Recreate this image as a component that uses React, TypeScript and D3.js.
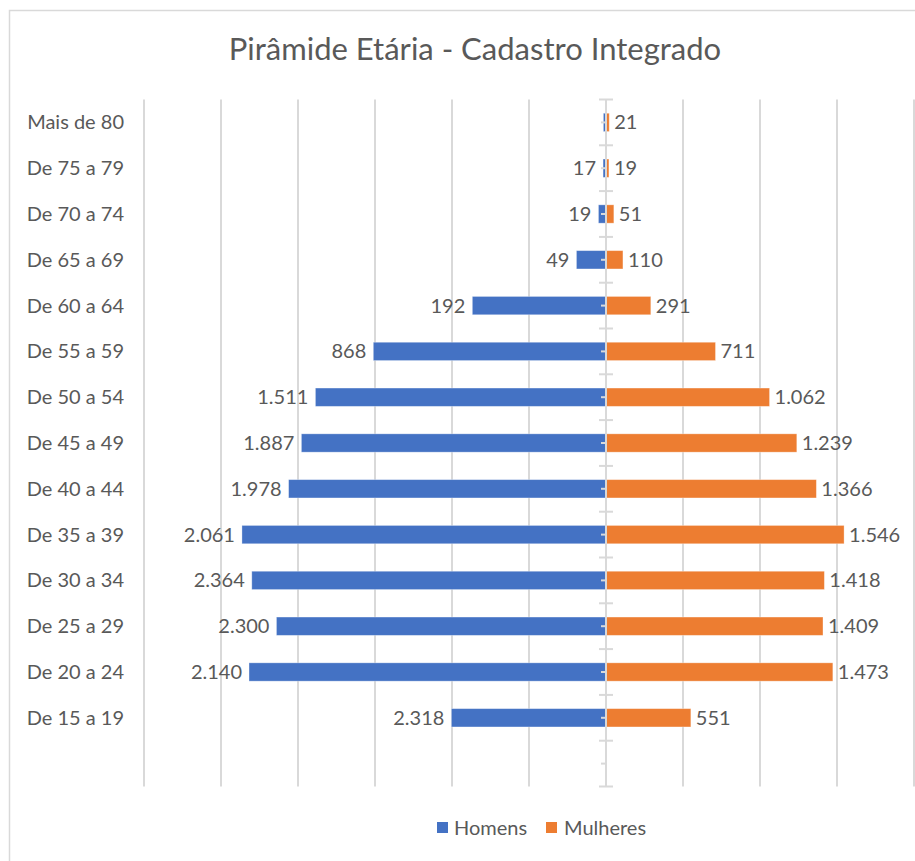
import React from "react";
import * as d3 from "d3";

// faixas etárias, de cima para baixo (a última linha fica vazia no gráfico)
const faixas = [
  "Mais de 80",
  "De 75 a 79",
  "De 70 a 74",
  "De 65 a 69",
  "De 60 a 64",
  "De 55 a 59",
  "De 50 a 54",
  "De 45 a 49",
  "De 40 a 44",
  "De 35 a 39",
  "De 30 a 34",
  "De 25 a 29",
  "De 20 a 24",
  "De 15 a 19",
];

// comprimento das barras
const homens = [17, 19, 49, 192, 868, 1511, 1887, 1978, 2061, 2364, 2300, 2140, 2318, 1004];
const mulheres = [21, 19, 51, 110, 291, 711, 1062, 1239, 1366, 1546, 1418, 1409, 1473, 551];

// rótulos como aparecem no gráfico original
const homensRotulos = ["", "17", "19", "49", "192", "868", "1.511", "1.887", "1.978", "2.061", "2.364", "2.300", "2.140", "2.318"];
const mulheresRotulos = ["21", "19", "51", "110", "291", "711", "1.062", "1.239", "1.366", "1.546", "1.418", "1.409", "1.473", "551"];

const xTicks = [-3000, -2500, -2000, -1500, -1000, -500, 0, 500, 1000, 1500, 2000];

const AZUL = "#4472C4";
const LARANJA = "#ED7D31";
const TEXTO = "#595959";
const GRADE = "#d9d9d9";
const FONTE = "Lato, 'Open Sans', sans-serif";

const W = 915;
const H = 861;

export default function App() {
  const linhas = [...faixas, "__vazio"];
  const x = d3.scaleLinear().domain([-3000, 2000]).range([144, 914]);
  const y = d3.scaleBand().domain(linhas).range([99.5, 786.5]).paddingInner(0);
  const bw = y.bandwidth();
  const barH = bw * 0.4;
  const x0 = x(0);

  return (
    <svg
      width={W}
      height={H}
      style={{ position: "absolute", left: 0, top: 0, background: "#fff" }}
      fontFamily={FONTE}
    >
      <rect x={0} y={0} width={W} height={H} fill="#fff" />
      <rect x={9.5} y={10.5} width={960} height={900} fill="#fff" stroke={GRADE} strokeWidth={1.5} />

      <text x={475} y={60} textAnchor="middle" fontSize={31} fill={TEXTO}>
        Pirâmide Etária - Cadastro Integrado
      </text>

      {/* grade vertical */}
      {xTicks.map(t => (
        <line
          key={t}
          x1={x(t)}
          x2={x(t)}
          y1={y.range()[0]}
          y2={y.range()[1]}
          stroke={GRADE}
          strokeWidth={2}
        />
      ))}

      {/* barras */}
      {faixas.map((f, i) => {
        const cy = (y(f) as number) + bw / 2;
        return (
          <g key={f}>
            <rect
              x={x(-homens[i])}
              y={cy - barH / 2}
              width={x0 - x(-homens[i])}
              height={barH}
              fill={AZUL}
              stroke="#fff"
              strokeOpacity={0.4}
              strokeWidth={0.8}
            />
            <rect
              x={x0}
              y={cy - barH / 2}
              width={x(mulheres[i]) - x0}
              height={barH}
              fill={LARANJA}
              stroke="#fff"
              strokeOpacity={0.4}
              strokeWidth={0.8}
            />
          </g>
        );
      })}

      {/* eixo central */}
      <line x1={x0} x2={x0} y1={y.range()[0]} y2={y.range()[1]} stroke={GRADE} strokeWidth={2} />
      {d3.range(linhas.length + 1).map(i => {
        const yy = y.range()[0] + i * bw;
        return <line key={"M" + i} x1={x0 - 7} x2={x0 + 7} y1={yy} y2={yy} stroke={GRADE} strokeWidth={2} />;
      })}
      {linhas.map(f => {
        const yy = (y(f) as number) + bw / 2;
        return <line key={"m" + f} x1={x0 - 5} x2={x0} y1={yy} y2={yy} stroke={GRADE} strokeWidth={2} />;
      })}

      {/* rótulos das categorias */}
      {faixas.map(f => (
        <text
          key={"c" + f}
          x={124}
          y={(y(f) as number) + bw / 2}
          dy="0.35em"
          textAnchor="end"
          fontSize={20}
          fill={TEXTO}
        >
          {f}
        </text>
      ))}

      {/* rótulos de dados */}
      {faixas.map((f, i) => {
        const cy = (y(f) as number) + bw / 2;
        return (
          <g key={"d" + f} fontSize={20} fill={TEXTO}>
            {homensRotulos[i] && (
              <text x={x(-homens[i]) - 7} y={cy} dy="0.35em" textAnchor="end">
                {homensRotulos[i]}
              </text>
            )}
            <text x={x(mulheres[i]) + 5} y={cy} dy="0.35em" textAnchor="start">
              {mulheresRotulos[i]}
            </text>
          </g>
        );
      })}

      {/* legenda */}
      <g fontSize={20} fill={TEXTO}>
        <rect x={437} y={822} width={11} height={11} fill={AZUL} />
        <text x={454} y={828} dy="0.35em">Homens</text>
        <rect x={546} y={822} width={11} height={11} fill={LARANJA} />
        <text x={564} y={828} dy="0.35em">Mulheres</text>
      </g>
    </svg>
  );
}
